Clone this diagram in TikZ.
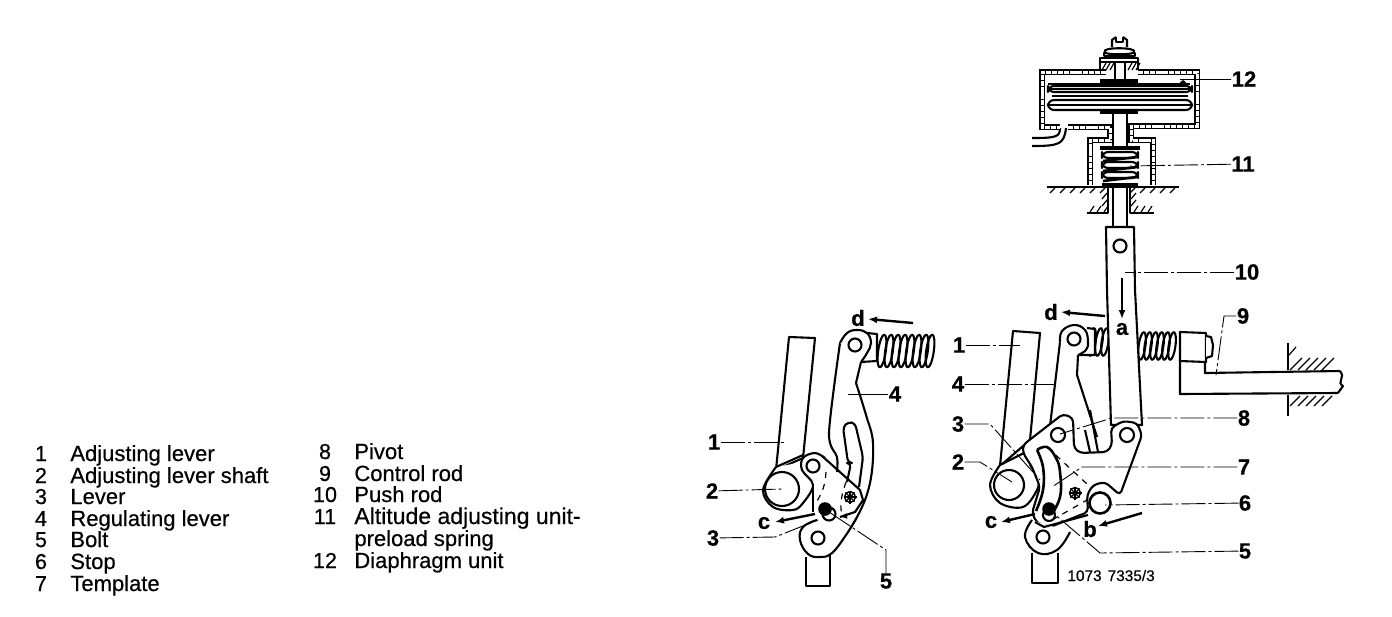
\documentclass[tikz,border=0pt]{standalone}
\usepackage{fontspec}
\setmainfont{Liberation Sans}
\newfontfamily\legfont[FakeBold=0.5]{Liberation Sans}
\newfontfamily\lblfont[FakeBold=0.6]{Liberation Sans Bold}
\usetikzlibrary{arrows.meta}
\tikzset{
  ln/.style={line width=1.05pt,line join=round},
  fillw/.style={ln,fill=white},
  wallblack/.style={line width=3.1pt,line join=miter},
  wallwhite/.style={line width=1.5pt,white,dash pattern=on 2.6pt off 0.45pt},
  leader/.style={line width=0.45pt,dash pattern=on 12pt off 1.5pt on 1.5pt off 1.5pt},
  lbl/.style={font=\lblfont\fontsize{11}{11}\selectfont,inner sep=0pt},
  leg/.style={font=\legfont\fontsize{11}{11}\selectfont,inner sep=0pt,anchor=base west},
  legn/.style={font=\legfont\fontsize{10.8}{11}\selectfont,inner sep=0pt,anchor=base},
  tip/.style={line width=1.2pt,-{Latex[length=4.5pt,width=3.5pt]}},
  hatchl/.style={line width=0.6pt}
}
\begin{document}
\begin{tikzpicture}[x=0.5pt,y=-0.5pt]
\useasboundingbox (0,0) rectangle (1392,616);

% ================ top unit
\draw[ln] (1060,128) .. controls (1060,137) and (1056,138) .. (1032,138);
\draw[ln] (1066,128) .. controls (1064,144) and (1060,146) .. (1032,146);
\foreach \st in {wallblack,wallwhite}{
  \draw[\st] (1106,72) -- (1042,72) -- (1042,127) -- (1060,127);
  \draw[\st] (1068,127) -- (1110,127) -- (1110,140) -- (1090,140) -- (1090,185);
  \draw[\st] (1138,72) -- (1197,72) -- (1197,126) -- (1131,126) -- (1131,140) -- (1153,140) -- (1153,185);
}
\draw[ln] (1100,70) -- (1100,58) -- (1138,58) -- (1138,70);
\draw[ln] (1100,62) -- (1138,62);
\foreach \x in {1102,1106,1110,1128,1132,1136}{\draw[hatchl] (\x,70) -- (\x+4,63);}
\draw[ln,fill=white] (1104,53) rectangle (1135,56);
\draw[ln,fill=white] (1105,52) .. controls (1100,47) and (1138,47) .. (1134,52) .. controls (1136,55) and (1102,55) .. (1105,52);
\draw[ln] (1112,47) -- (1112,40) -- (1116,37) (1127,47) -- (1127,40) -- (1123,37);
\draw[ln] (1116,37) -- (1116,42) -- (1123,42) -- (1123,37);
\draw[ln] (1115,62) -- (1115,81) (1125,62) -- (1125,81);
% diaphragm
\draw[fillw,line width=1.3pt] (1048,84) -- (1190,84);
\draw[line width=1.6pt] (1100,81) -- (1138,81);
\draw[ln,rounded corners=3pt,fill=white] (1048,86) rectangle (1192,92);
\draw[line width=1.4pt] (1048,89) -- (1192,89);
\draw[ln,rounded corners=3pt,fill=white] (1048,100) rectangle (1192,110);
\draw[line width=1.4pt] (1048,105) -- (1192,105);
\draw[ln] (1052,96) -- (1188,96);
\draw[line width=1.6pt] (1100,112) -- (1138,112);
\draw[ln,fill=black] (1180,84) -- (1183,81) -- (1186,84) -- cycle;
\draw[ln] (1113,113) -- (1113,147) (1127,113) -- (1127,147);
% spring 11
\draw[line width=1.8pt] (1100,148) -- (1140,148);
\foreach \y in {156,166,176}{
  \draw[ln,rounded corners=3pt] (1102,\y-4) rectangle (1138,\y+2);
  \draw[line width=1.3pt] (1103,\y+5) -- (1137,\y+1);
}
\draw[line width=1.8pt] (1102,185) -- (1138,185);
% ground and lower guides
\draw[ln] (1047,187) -- (1179,187);
\foreach \x in {1050,1060,...,1105,1130,1140,...,1175}{\draw[hatchl] (\x,193) -- (\x+5,188);}
\draw[ln] (1108,188) -- (1108,213) -- (1087,213);
\draw[ln] (1130,188) -- (1130,213) -- (1154,213);
\foreach \x in {1090,1097,1104}{\draw[hatchl] (\x,212) -- (\x+4,206);}
\foreach \x in {1134,1141,1148}{\draw[hatchl] (\x,212) -- (\x+4,206);}
\foreach \y in {193,200}{\draw[hatchl] (1102,\y+6) -- (1107,\y);\draw[hatchl] (1131,\y+6) -- (1136,\y);}
\draw[ln] (1113,188) -- (1113,226) (1127,188) -- (1127,226);

% ================ springs (right figure)
\foreach \x in {1092,1099,1105}{\draw[ln,rotate around={-8:(\x,342)}] (\x,342) ellipse (3.4 and 14);}
\foreach \x in {1142,1148,1154,1160,1166,1172}{\draw[ln,rotate around={-8:(\x,346)}] (\x,346) ellipse (3.4 and 14);}
% control rod
\draw[ln] (1180,360) -- (1180,394) -- (1338,393);
\draw[ln] (1205,362) -- (1205,373) -- (1340,371);
\draw[ln] (1340,371) .. controls (1346,378) and (1336,382) .. (1343,386) -- (1338,393);
\draw[fillw] (1180,332) -- (1206,333) -- (1206,362) -- (1180,361) -- cycle;
\draw[fillw] (1206,336) -- (1211,337) -- (1213,345) -- (1212,356) -- (1206,358);
% wall
\draw[ln] (1288,343) -- (1288,370) (1288,395) -- (1288,416);
\foreach \x in {1290,1298,1306,1314,1322}{\draw[hatchl] (\x,370) -- (\x+12,358);\draw[hatchl] (\x,406) -- (\x+10,396);}
\draw[hatchl] (1289,355) -- (1296,347);

% ================ push rod 10
\draw[fillw] (1106,227) -- (1134,227) -- (1135,290) -- (1142,425) -- (1111,425) -- (1107,290) -- cycle;
\draw[ln] (1120,246) circle (6.5);
% ================ lever 4 right (behind plate)
\fill[white] (1060,342) -- (1050,426) -- (1100,455) -- (1097,437) -- (1077,375) -- (1078,355) -- (1088,350) -- (1088,330) -- (1074,326) -- cycle;
\draw[ln] (1060,342) -- (1050,426);
\draw[ln] (1078,355) -- (1077,375) -- (1097,437);
\draw[fillw] (1087,328) -- (1095,329) -- (1095,355) -- (1078,355);
\draw[fillw,smooth,tension=.7] plot coordinates {(1060,342) (1062,331) (1074,325) (1085,330) (1088,342) (1086,350) (1078,355)};
\draw[ln] (1074,339) circle (6.5);
% adjusting lever 1 right
\draw[fillw] (1013,331) -- (1040,333) -- (1030,440) -- (1000,466) -- cycle;
% lobe around shaft
\draw[fillw] plot[smooth,tension=.6] coordinates {(1000,465) (990,485) (1000,503) (1023,507) (1037,490) (1038,478) (1030,465)};
\draw[ln] (1000,465) -- (1030,450);
\draw[ln] (1009,485) circle (15);
% main plate
\draw[fillw,rounded corners=2pt] (1023,445) -- (1050,424) -- (1063,414) -- (1073,418) -- (1074,448) -- (1080,453) -- (1107,452) -- (1112,445) -- (1111,428) -- (1123,421) -- (1137,423) -- (1142,435) -- (1120,495) -- (1105,482) -- (1093,485) -- (1087,495) -- (1088,512) -- (1050,527) -- (1037,523) -- (1032,513) -- (1040,487) -- (1032,467) -- (1023,453) -- cycle;
\draw[ln] (1085,430) -- (1090,452) (1090,410) -- (1098,452);
\draw[ln] (1058,435) circle (7);
\draw[ln] (1127,435) circle (7);
% template 7
\draw[line width=1.3pt] plot[smooth,tension=.7] coordinates {(1037,450) (1047,447) (1056,458) (1060,472) (1060,497) (1050,517)};
\draw[line width=1.3pt] plot[smooth,tension=.7] coordinates {(1037,450) (1043,467) (1043,490) (1036,511)};
\draw[line width=0.6pt,dashed] (1047,447) -- (1087,484);
\draw[line width=0.6pt,dashed] (1052,520) -- (1087,500);
% star
\draw[line width=.7pt] (1075,493) circle (5.5);
\foreach \a in {0,45,...,135}{\draw[line width=.7pt] (1075,493) ++(\a:6.5) -- ++(\a+180:13);}
% stop 6
\draw[line width=1.3pt,fill=white] (1100,503) circle (10.5);
% lower lever lobe
\draw[fillw] (1032,553) -- (1032,583) -- (1058,583) -- (1058,553);
\draw[fillw] plot[smooth,tension=.7] coordinates {(1032,520) (1025,537) (1038,553) (1057,550) (1070,532)};
\draw[ln] (1043,537) circle (6.5);
\draw[ln] (1035,522) -- (1044,527) -- (1088,515);
% bolt
\draw[ln,fill=white] (1049,515) circle (6);
\fill (1049,509) circle (6.8);

% ================ left figure
\foreach \x in {882,889,896,903,910,917,924,930}{\draw[ln,rotate around={-8:(\x,351)}] (\x,351) ellipse (3.8 and 16.5);}
% adjusting lever
\draw[fillw] (789,337) -- (815,338) -- (803,458) -- (776,470) -- cycle;
% lever 4 left
\fill[white] (840,343) -- (829,433) -- (837,457) -- (837,470) -- (860,490) -- (857,517) -- (873,443) -- (856,383) -- (861,362) -- cycle;
\draw[ln] plot[smooth,tension=.5] coordinates {(840,343) (829,433) (837,457) (837,472)};
\draw[ln] plot[smooth,tension=.6] coordinates {(856,383) (866,415) (873,443) (870,483) (857,517) (832,553)};
\draw[ln] (861,362) -- (856,383);
\draw[fillw] (867,333) -- (877,334) -- (877,361) -- (861,362);
\draw[fillw] plot[smooth,tension=.7] coordinates {(840,343) (847,333) (857,330) (867,333) (871,343) (867,353) (861,362)};
\draw[ln] (855,345) circle (6.5);
% slot
\draw[ln,rounded corners=2pt] (859,487) -- (863,457) -- (855,423) -- (848,422) -- (843,427) -- (848,463) -- (851,463) -- (847,482);
% lower arm
\draw[fillw] (806,557) -- (806,586) -- (830,586) -- (830,555);
\draw[fillw] plot[smooth,tension=.7] coordinates {(817,520) (803,527) (800,540) (808,554) (820,557) (832,553) (846,535) (857,517)};
\draw[ln] (818,538) circle (6.5);
% plate
\draw[fillw] plot[smooth,tension=.6] coordinates {(776,467) (763,490) (773,507) (793,510) (803,503) (813,485) (802,470) (803,458) (815,453) (825,458)};
\draw[ln] (776,467) -- (803,455);
\draw[ln] (782,489) circle (17);
\draw[ln] (813,466) circle (6.5);
\draw[ln] (822,456) -- (860,490) -- (863,500) -- (855,512) -- (840,517);
\draw[ln] (813,487) -- (813,512);
\draw[line width=.6pt,dashed] (826,472) .. controls (825,490) and (820,495) .. (815,505);
\draw[line width=.6pt,dashed] (846,482) .. controls (840,500) and (840,505) .. (842,516);
\draw[ln,fill=white] (829,514) circle (6.5);
\fill (825,509) circle (6.8);
\draw[line width=.7pt] (850,497) circle (5.5);
\foreach \a in {0,45,...,135}{\draw[line width=.7pt] (850,497) ++(\a:6.5) -- ++(\a+180:13);}

% ================ arrows
\coordinate (aS) at (1122,278); \coordinate (aE) at (1122,319);
\coordinate (dS) at (1105,316); \coordinate (dE) at (1061,312);
\coordinate (dlS) at (913,323); \coordinate (dlE) at (868,319);
\coordinate (cS) at (1035,514); \coordinate (cE) at (1001,522);
\coordinate (clS) at (815,514); \coordinate (clE) at (775,522);
\coordinate (bS) at (1142,513); \coordinate (bE) at (1098,526);
\draw[tip] (aS) -- (aE);
\draw[tip] (dS) -- (dE);
\draw[tip] (dlS) -- (dlE);
\draw[tip] (cS) -- (cE);
\draw[tip] (clS) -- (clE);
\draw[tip] (bS) -- (bE);
\draw[tip,-{Latex[length=3pt,width=3pt]},line width=.8pt] (847,516) -- (841,517);

% ================ labels right figure
\node[lbl] (r12) at (1244,79) {12};
\node[lbl] (r11) at (1243,164) {11};
\node[lbl] (r10) at (1247,272) {10};
\node[lbl] (r9) at (1243,316) {9};
\node[lbl] (r1) at (959,345) {1};
\node[lbl] (r4) at (958,384) {4};
\node[lbl] (r3) at (958,424) {3};
\node[lbl] (r8) at (1244,418) {8};
\node[lbl] (r2) at (958,462) {2};
\node[lbl] (r7) at (1244,467) {7};
\node[lbl] (r6) at (1245,503) {6};
\node[lbl] (r5) at (1245,551) {5};
\node[lbl] (ra) at (1122,329) {a};
\node[lbl] (rd) at (1051,312) {d};
\node[lbl] (rc) at (991,522) {c};
\node[lbl] (rb) at (1090,529) {b};
% labels left figure
\node[lbl] (l4) at (895,394) {4};
\node[lbl] (l1) at (714,442) {1};
\node[lbl] (l2) at (712,491) {2};
\node[lbl] (l3) at (713,538) {3};
\node[lbl] (l5) at (886,581) {5};
\node[lbl] (lc) at (764,523) {c};
\node[lbl] (ld) at (858,318) {d};
% leaders
\coordinate (e12) at (1180,79); \draw[leader,solid] (r12) -- (e12);
\coordinate (e11) at (1130,166); \draw[leader] (r11) -- (e11);
\coordinate (e10) at (1125,272); \draw[leader] (r10) -- (e10);
\coordinate (e9a) at (1224,316); \coordinate (e9) at (1216,375); \draw[leader] (r9) -- (e9a) -- (e9);
\coordinate (e1) at (1020,345); \draw[leader] (r1) -- (e1);
\coordinate (e4) at (1057,384); \draw[leader] (r4) -- (e4);
\coordinate (e3a) at (990,424); \coordinate (e3) at (1040,480); \draw[leader] (r3) -- (e3a) -- (e3);
\coordinate (e8a) at (1112,418); \coordinate (e8) at (1060,434); \draw[leader] (r8) -- (e8a) -- (e8);
\coordinate (e2a) at (980,462); \coordinate (e2) at (1012,482); \draw[leader] (r2) -- (e2a) -- (e2);
\coordinate (e7a) at (1082,467); \coordinate (e7) at (1052,487); \draw[leader] (r7) -- (e7a) -- (e7);
\coordinate (e6) at (1105,505); \draw[leader] (r6) -- (e6);
\coordinate (e5a) at (1100,553); \coordinate (e5) at (1052,512); \draw[leader] (r5) -- (e5a) -- (e5);
\coordinate (f4) at (848,394); \draw[leader,solid] (l4) -- (f4);
\coordinate (f1) at (786,442); \draw[leader] (l1) -- (f1);
\coordinate (f2) at (782,489); \draw[leader] (l2) -- (f2);
\coordinate (f3a) at (775,537); \coordinate (f3) at (818,520); \draw[leader] (l3) -- (f3a) -- (f3);
\coordinate (f5a) at (886,550); \coordinate (f5) at (829,512); \draw[leader] (l5) -- (f5a) -- (f5);

\node[font=\legfont\fontsize{7.7}{8}\selectfont,inner sep=0pt,anchor=base west] (code) at (1067,581) {1073\hspace{3pt}7335/3};

% ================ legend
\foreach \n/\t/\y [count=\i] in {1/Adjusting lever/461,2/Adjusting lever shaft/483,3/Lever/504,4/Regulating lever/526,5/Bolt/547,6/Stop/569,7/Template/591}{
  \node[legn] (na\i) at (41,\y) {\n};
  \node[leg] (ta\i) at (70,\y) {\t};
}
\foreach \n/\t/\y [count=\i] in {8/Pivot/459,9/Control rod/481,10/Push rod/502,{}/preload spring/546,12/Diaphragm unit/568}{
  \node[legn] (nb\i) at (325,\y) {\n};
  \node[leg] (tb\i) at (354,\y) {\t};
}
\node[legn] (nb11) at (325,524) {11};
\node[leg,font=\legfont\fontsize{11.5}{11}\selectfont] (tb11) at (354,524) {Altitude adjusting unit-};
\end{tikzpicture}
\end{document}
